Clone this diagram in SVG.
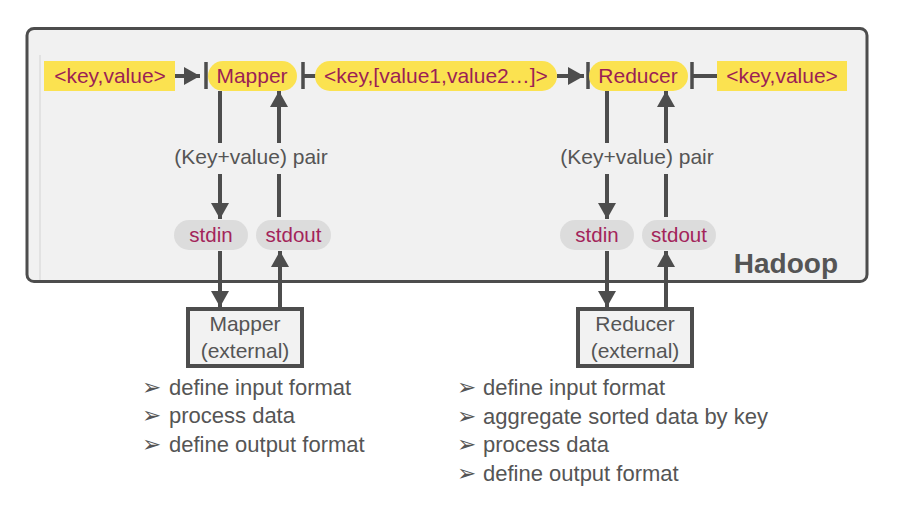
<svg xmlns="http://www.w3.org/2000/svg" width="908" height="508" viewBox="0 0 908 508">
<defs>
<style>
.lbl{font-family:"Liberation Sans",Arial,Helvetica,sans-serif;font-size:21px;fill:#9b1f55;text-anchor:middle}
.pin{font-family:"Liberation Sans",Arial,Helvetica,sans-serif;font-size:20.5px;fill:#a3245a;text-anchor:middle}
.gray{font-family:"Liberation Sans",Arial,Helvetica,sans-serif;font-size:21px;fill:#555555;text-anchor:middle}
.list{font-family:"Liberation Sans",Arial,Helvetica,sans-serif;font-size:22px;fill:#555555}
.bul{font-family:"DejaVu Sans",sans-serif;font-size:23px;fill:#555555}
.yel{fill:#fbe250}
.pill{fill:#dcdcdc}
.conn{stroke:#4d4d4d;stroke-width:4;fill:none}
.bar{stroke:#4d4d4d;stroke-width:3.5;fill:none}
.ext{fill:#f2f2f2;stroke:#4d4d4d;stroke-width:4}
</style>
<marker id="ah" markerUnits="userSpaceOnUse" markerWidth="18" markerHeight="18" viewBox="0 0 18 18" refX="16" refY="9" orient="auto">
<path d="M0,0 L16,9 L0,18 Z" fill="#4d4d4d"/>
</marker>
</defs>
<rect width="908" height="508" fill="#ffffff"/>
<g id="hadoop">
<rect x="27" y="28.5" width="840" height="253" rx="7" fill="#f1f1f1" stroke="#4d4d4d" stroke-width="3"/>
<line x1="40" y1="55" x2="40" y2="280" stroke="#dcdcdc" stroke-width="1.5"/>
<text x="838" y="273" font-family="'Liberation Sans',Arial,Helvetica,sans-serif" font-size="28" font-weight="bold" fill="#555555" text-anchor="end">Hadoop</text>
</g>
<g id="connectors">
<line class="conn" x1="175" y1="76" x2="200" y2="76" marker-end="url(#ah)"/>
<line class="bar" x1="206" y1="62" x2="206" y2="89"/>
<line class="bar" x1="303" y1="62" x2="303" y2="89"/>
<line class="conn" x1="303" y1="76" x2="316" y2="76"/>
<line class="conn" x1="557" y1="76" x2="584" y2="76" marker-end="url(#ah)"/>
<line class="bar" x1="588" y1="62" x2="588" y2="89"/>
<line class="bar" x1="692" y1="62" x2="692" y2="89"/>
<line class="conn" x1="692" y1="76" x2="717" y2="76"/>
<line class="conn" x1="220" y1="91" x2="220" y2="143"/>
<line class="conn" x1="220" y1="174" x2="220" y2="219" marker-end="url(#ah)"/>
<line class="conn" x1="279" y1="217" x2="279" y2="174"/>
<line class="conn" x1="279" y1="143" x2="279" y2="91" marker-end="url(#ah)"/>
<line class="conn" x1="607" y1="91" x2="607" y2="143"/>
<line class="conn" x1="607" y1="174" x2="607" y2="219" marker-end="url(#ah)"/>
<line class="conn" x1="666" y1="217" x2="666" y2="174"/>
<line class="conn" x1="666" y1="143" x2="666" y2="91" marker-end="url(#ah)"/>
<line class="conn" x1="220" y1="251" x2="220" y2="307" marker-end="url(#ah)"/>
<line class="conn" x1="280" y1="307" x2="280" y2="251" marker-end="url(#ah)"/>
<line class="conn" x1="607" y1="251" x2="607" y2="307" marker-end="url(#ah)"/>
<line class="conn" x1="666" y1="307" x2="666" y2="251" marker-end="url(#ah)"/>
<text class="gray" x="251" y="164">(Key+value) pair</text>
<text class="gray" x="637" y="164">(Key+value) pair</text>
</g>
<g id="input">
<rect class="yel" x="44" y="61" width="131" height="30"/>
<text class="lbl" x="110" y="83">&lt;key,value&gt;</text>
</g>
<g id="mapper">
<rect class="yel" x="208" y="61" width="89" height="30" rx="15"/>
<text class="lbl" x="252" y="83">Mapper</text>
</g>
<g id="intermediate">
<rect class="yel" x="315" y="61" width="242" height="30" rx="15"/>
<text class="lbl" x="436" y="83">&lt;key,[value1,value2…]&gt;</text>
</g>
<g id="reducer">
<rect class="yel" x="589" y="61" width="99" height="30" rx="15"/>
<text class="lbl" x="638" y="83">Reducer</text>
</g>
<g id="output">
<rect class="yel" x="717" y="61" width="130" height="30"/>
<text class="lbl" x="782" y="83">&lt;key,value&gt;</text>
</g>
<g id="mapper-stdin">
<rect class="pill" x="174" y="220" width="74" height="30" rx="15"/>
<text class="pin" x="211" y="242">stdin</text>
</g>
<g id="mapper-stdout">
<rect class="pill" x="256" y="220" width="75" height="30" rx="15"/>
<text class="pin" x="293.5" y="242">stdout</text>
</g>
<g id="reducer-stdin">
<rect class="pill" x="560" y="220" width="74" height="30" rx="15"/>
<text class="pin" x="597" y="242">stdin</text>
</g>
<g id="reducer-stdout">
<rect class="pill" x="642" y="220" width="74" height="30" rx="15"/>
<text class="pin" x="679" y="242">stdout</text>
</g>
<g id="mapper-external">
<rect class="ext" x="188" y="309" width="114" height="57"/>
<text class="gray" x="245" y="331">Mapper</text>
<text class="gray" x="245" y="358">(external)</text>
</g>
<g id="reducer-external">
<rect class="ext" x="578" y="309" width="114" height="57"/>
<text class="gray" x="635" y="331">Reducer</text>
<text class="gray" x="635" y="358">(external)</text>
</g>
<g id="mapper-notes">
<text class="bul" x="142" y="395">➢</text><text class="list" x="169" y="395">define input format</text>
<text class="bul" x="142" y="423">➢</text><text class="list" x="169" y="423">process data</text>
<text class="bul" x="142" y="452">➢</text><text class="list" x="169" y="452">define output format</text>
</g>
<g id="reducer-notes">
<text class="bul" x="457" y="395">➢</text><text class="list" x="483" y="395">define input format</text>
<text class="bul" x="457" y="424">➢</text><text class="list" x="483" y="424">aggregate sorted data by key</text>
<text class="bul" x="457" y="452">➢</text><text class="list" x="483" y="452">process data</text>
<text class="bul" x="457" y="481">➢</text><text class="list" x="483" y="481">define output format</text>
</g>
</svg>
